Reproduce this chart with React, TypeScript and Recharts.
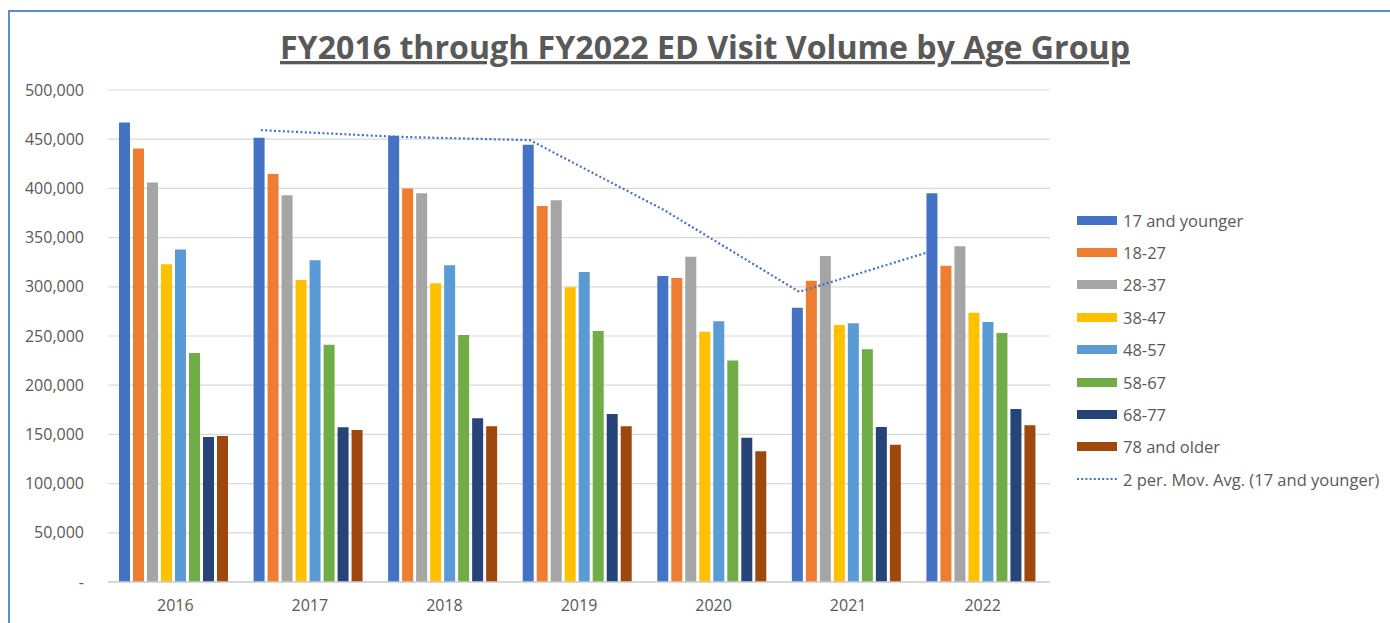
import React from 'react';
import { ComposedChart, Bar, Line, XAxis, YAxis, CartesianGrid, Legend } from 'recharts';

const years = ['2016', '2017', '2018', '2019', '2020', '2021', '2022'];
const yearIndex = [0, 1, 2, 3, 4, 5, 6];
const ageGroups = ['17 and younger', '18-27', '28-37', '38-47', '48-57', '58-67', '68-77', '78 and older'];
const groupColors = ['#4472C4', '#ED7D31', '#A5A5A5', '#FFC000', '#5B9BD5', '#70AD47', '#264478', '#9E480E'];

const age17 = [467000, 451500, 453600, 444400, 311000, 278800, 395000];
const age18 = [440500, 414600, 400000, 382000, 309000, 306200, 321500];
const age28 = [406000, 393000, 395000, 388000, 330600, 331300, 341200];
const age38 = [323000, 307000, 303500, 299500, 254400, 261200, 273700];
const age48 = [338000, 327000, 321800, 315000, 265000, 262900, 264200];
const age58 = [232700, 241000, 251000, 255000, 225000, 236500, 253000];
const age68 = [147400, 157200, 166300, 170700, 146700, 157500, 175800];
const age78 = [148400, 154500, 158200, 158200, 132800, 139600, 159200];
const movAvg17 = [null, 459200, 452500, 449000, 377700, 294900, 336900];
const yTicks = [0, 50000, 100000, 150000, 200000, 250000, 300000, 350000, 400000, 450000, 500000];

const seriesValues = [age17, age18, age28, age38, age48, age58, age68, age78];
const seriesKeys = ['s0', 's1', 's2', 's3', 's4', 's5', 's6', 's7'];
const maLabel = '2 per. Mov. Avg. (17 and younger)';

const data = years.map((y, i) => {
  const row: any = { year: y, idx: yearIndex[i], ma: movAvg17[i] };
  seriesKeys.forEach((k, s) => { row[k] = seriesValues[s][i]; });
  return row;
});

// layout
const W = 1390;
const H = 623;
const PLOT_LEFT = 108;
const PLOT_RIGHT = 1050;
const PLOT_TOP = 90;
const PLOT_BOTTOM = 582;
const Y_AXIS_W = 100;
const X_AXIS_H = 30;
const CAT_GAP = 11;
const BAR_GAP = 3;

const plotW = PLOT_RIGHT - PLOT_LEFT;
const band = plotW / years.length;
const nBars = seriesKeys.length;
let barSize = (band - 2 * CAT_GAP - (nBars - 1) * BAR_GAP) / nBars;
if (barSize > 1) barSize = Math.floor(barSize);
const groupW = nBars * barSize + (nBars - 1) * BAR_GAP;
const shift = (-groupW / 2 + barSize / 2) / band;
const maDomain = [-0.5 - shift, years.length - 0.5 - shift];

const FONT = '"Open Sans", "Liberation Sans", sans-serif';
const TEXT = '#595959';

const fmt = (v: number) => (v === 0 ? '-' : v.toLocaleString('en-US'));

const LegendContent = () => (
  <div style={{ fontFamily: FONT, fontSize: 16.5, color: TEXT }}>
    {ageGroups.map((g, i) => (
      <div key={g} style={{ height: 32.4, display: 'flex', alignItems: 'center' }}>
        <div style={{ width: 40, height: 9, background: groupColors[i], marginRight: 6 }} />
        <span style={{ whiteSpace: 'nowrap' }}>{g}</span>
      </div>
    ))}
    <div style={{ height: 32.4, display: 'flex', alignItems: 'center' }}>
      <svg width={40} height={6} style={{ marginRight: 6 }}>
        <line x1={0} y1={3} x2={40} y2={3} stroke="#4472C4" strokeWidth={2} strokeDasharray="2 2.2" />
      </svg>
      <span style={{ whiteSpace: 'nowrap' }}>{maLabel}</span>
    </div>
  </div>
);

export default function App() {
  return (
    <div style={{ position: 'absolute', left: 0, top: 0, width: W, height: H, background: '#fff', overflow: 'hidden' }}>
      <div style={{ position: 'absolute', left: 8, top: 10, right: -4, bottom: -4, borderTop: '2px solid #5B8BD7', borderLeft: '2px solid #5B8BD7' }} />
      <svg width={W} height={80} style={{ position: 'absolute', left: 0, top: 0 }}>
        <text
          x={705}
          y={59}
          textAnchor="middle"
          textLength={850}
          lengthAdjust="spacingAndGlyphs"
          style={{ fontFamily: FONT, fontSize: 33, fontWeight: 700, fill: TEXT, textDecoration: 'underline' }}
        >
          FY2016 through FY2022 ED Visit Volume by Age Group
        </text>
      </svg>
      <div style={{ position: 'absolute', left: 0, top: 0 }}>
        <ComposedChart
          width={W}
          height={H}
          data={data}
          margin={{ top: PLOT_TOP, right: W - PLOT_RIGHT, bottom: H - PLOT_BOTTOM - X_AXIS_H, left: PLOT_LEFT - Y_AXIS_W }}
          barCategoryGap={CAT_GAP}
          barGap={BAR_GAP}
        >
          <CartesianGrid vertical={false} stroke="#D9D9D9" strokeWidth={1.2} />
          <XAxis
            xAxisId="cat"
            dataKey="year"
            height={X_AXIS_H}
            axisLine={{ stroke: '#D0D0D0', strokeWidth: 1.5 }}
            tickLine={false}
            tickSize={0}
            tickMargin={18}
            tick={{ fill: TEXT, fontSize: 16, fontFamily: FONT }}
          />
          <XAxis xAxisId="ma" dataKey="idx" type="number" domain={maDomain} allowDataOverflow hide />
          <YAxis
            width={Y_AXIS_W}
            domain={[0, 500000]}
            ticks={yTicks}
            axisLine={false}
            tickLine={false}
            tickSize={0}
            tickMargin={24}
            tickFormatter={fmt}
            tick={{ fill: TEXT, fontSize: 16, fontFamily: FONT }}
          />
          {seriesKeys.map((k, i) => (
            <Bar key={k} xAxisId="cat" dataKey={k} name={ageGroups[i]} fill={groupColors[i]} isAnimationActive={false} />
          ))}
          <Line
            xAxisId="ma"
            dataKey="ma"
            name={maLabel}
            type="linear"
            stroke="#4472C4"
            strokeWidth={2.2}
            strokeDasharray="2 2.4"
            dot={false}
            activeDot={false}
            isAnimationActive={false}
          />
          <Legend
            layout="vertical"
            align="center"
            verticalAlign="middle"
            wrapperStyle={{ left: 1077, top: 204, width: 320 }}
            content={() => <LegendContent />}
          />
        </ComposedChart>
      </div>
    </div>
  );
}
